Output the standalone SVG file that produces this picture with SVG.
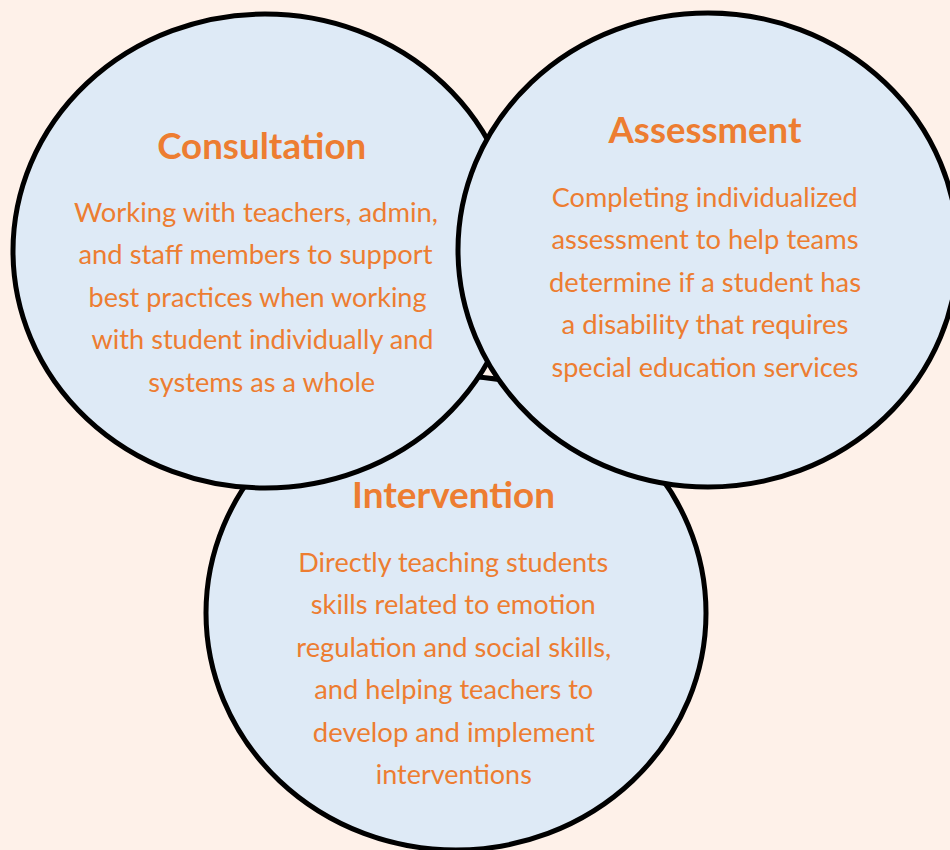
<svg xmlns="http://www.w3.org/2000/svg" width="950" height="850" viewBox="0 0 950 850">
  <style>
    .bubble { fill: #DEEAF6; stroke: #000000; stroke-width: 5; }
    .title { font-family: Lato, "Open Sans", "Liberation Sans", sans-serif; font-weight: 700; font-size: 37px; fill: #ED7D31; text-anchor: middle; }
    .body { font-family: Lato, "Open Sans", "Liberation Sans", sans-serif; font-weight: 400; font-size: 26.5px; fill: #ED7D31; text-anchor: middle; }
  </style>
  <rect x="0" y="0" width="950" height="850" fill="#FEF1E9"/>
  <g id="connectors"></g>
  <g id="intervention">
    <ellipse class="bubble" cx="456" cy="613" rx="250" ry="237"/>
    <text class="title" x="453.5" y="508.3" textLength="203" lengthAdjust="spacingAndGlyphs">Intervention</text>
    <text class="body" x="453.3" y="571.7" textLength="310" lengthAdjust="spacingAndGlyphs">Directly teaching students</text>
    <text class="body" x="453.3" y="614.2" textLength="285" lengthAdjust="spacingAndGlyphs">skills related to emotion</text>
    <text class="body" x="453.8" y="656.7" textLength="315" lengthAdjust="spacingAndGlyphs">regulation and social skills,</text>
    <text class="body" x="453.8" y="699.2" textLength="279" lengthAdjust="spacingAndGlyphs">and helping teachers to</text>
    <text class="body" x="453.8" y="741.7" textLength="282" lengthAdjust="spacingAndGlyphs">develop and implement</text>
    <text class="body" x="453.8" y="784.2" textLength="156" lengthAdjust="spacingAndGlyphs">interventions</text>
  </g>
  <g id="consultation">
    <ellipse class="bubble" cx="265" cy="251" rx="252" ry="237"/>
    <text class="title" x="261.7" y="159.3" textLength="209" lengthAdjust="spacingAndGlyphs">Consultation</text>
    <text class="body" x="256" y="221.7" textLength="364" lengthAdjust="spacingAndGlyphs">Working with teachers, admin,</text>
    <text class="body" x="255.5" y="264.2" textLength="354" lengthAdjust="spacingAndGlyphs">and staff members to support</text>
    <text class="body" x="257.5" y="306.7" textLength="338" lengthAdjust="spacingAndGlyphs">best practices when working</text>
    <text class="body" x="262.5" y="349.2" textLength="342" lengthAdjust="spacingAndGlyphs">with student individually and</text>
    <text class="body" x="261.7" y="391.7" textLength="227" lengthAdjust="spacingAndGlyphs">systems as a whole</text>
  </g>
  <g id="assessment">
    <ellipse class="bubble" cx="708" cy="250" rx="250" ry="237"/>
    <text class="title" x="705" y="143.3" textLength="193" lengthAdjust="spacingAndGlyphs">Assessment</text>
    <text class="body" x="704.7" y="206.7" textLength="306" lengthAdjust="spacingAndGlyphs">Completing individualized</text>
    <text class="body" x="705" y="249.2" textLength="307" lengthAdjust="spacingAndGlyphs">assessment to help teams</text>
    <text class="body" x="705" y="291.7" textLength="312" lengthAdjust="spacingAndGlyphs">determine if a student has</text>
    <text class="body" x="705" y="334.2" textLength="287" lengthAdjust="spacingAndGlyphs">a disability that requires</text>
    <text class="body" x="705" y="376.7" textLength="307" lengthAdjust="spacingAndGlyphs">special education services</text>
  </g>
</svg>
